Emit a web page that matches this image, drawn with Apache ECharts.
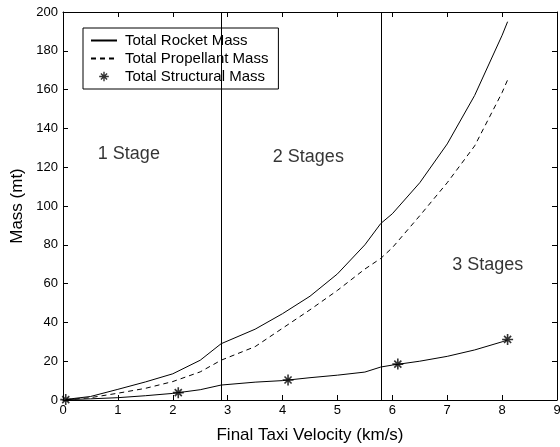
<!DOCTYPE html>
<html>
<head>
<meta charset="utf-8">
<script src="https://cdn.jsdelivr.net/npm/echarts@6/dist/echarts.min.js"></script>
<style>
  html, body { margin: 0; padding: 0; background: #fff; }
  #chart { width: 560px; height: 447px; }
</style>
</head>
<body>
<div id="chart"></div>
<script>
// final taxi velocity (km/s), shared by the three curves
var velocity = [0.05, 0.5, 1, 1.5, 2, 2.5, 2.88, 3.5, 4, 4.5, 5, 5.5, 5.79, 6, 6.5, 7, 7.5, 8, 8.1];
var rocketMass = [0.3, 1.8, 5.5, 9.3, 13.5, 20.5, 29, 36.5, 44.5, 53.5, 65, 80, 91, 96, 112, 132, 157, 188, 195];
var propellantMass = [0.1, 1.2, 3.5, 6, 9.5, 14.5, 20.5, 27.5, 37, 46.5, 56.5, 67.5, 73, 78.5, 95, 112, 131, 158.5, 165];
var structuralMass = [0.2, 0.6, 1.2, 2.2, 3.4, 5.3, 7.7, 9.2, 10, 11.5, 12.8, 14.4, 17, 18, 20, 22.5, 25.8, 30, 31];
// star markers on the structural curve
var starVelocity = [0.05, 2.1, 4.1, 6.1, 8.1];
var starMass = [0.2, 3.8, 10.3, 18.5, 31.2];
// stage boundaries
var stageLimits = [2.88, 5.79];
var stageNames = ['1 Stage', '2 Stages', '3 Stages'];
var stagePos = [[1.2, 127], [4.47, 125], [7.74, 69.5]];

var xTicks = [0, 9, 1];
var yTicks = [0, 200, 20];

var font = 'Liberation Sans, Arial, sans-serif';
// matlab style asterisk, padded to a 16x16 box
var star = 'path://M-8,-8 M8,8 M-5.5,-0.8 L5.5,-0.8 L5.5,0.8 L-5.5,0.8 Z M-0.8,-5.5 L0.8,-5.5 L0.8,5.5 L-0.8,5.5 Z ' +
  'M-2.96,-4.1 L4.1,2.96 L2.96,4.1 L-4.1,-2.96 Z M4.1,-2.96 L-2.96,4.1 L-4.1,2.96 L2.96,-4.1 Z';

function pairs(xs, ys) {
  return xs.map(function (x, i) { return [x, ys[i]]; });
}

var myChart = echarts.init(document.getElementById('chart'));

var axisCommon = {
  axisLine: { show: true, onZero: false, lineStyle: { color: '#000', width: 1 } },
  axisTick: { show: true, inside: true, length: 5, lineStyle: { color: '#000' } },
  splitLine: { show: false }
};

var option = {
  animation: false,
  backgroundColor: '#fff',
  grid: { left: 63, right: 3, top: 12, bottom: 47, outerBoundsMode: 'none', containLabel: false },
  legend: {
    left: 83,
    top: 28,
    orient: 'vertical',
    data: [
      { name: 'Total Rocket Mass', itemStyle: { opacity: 0 } },
      { name: 'Total Propellant Mass', itemStyle: { opacity: 0 } },
      { name: 'Total Structural Mass' }
    ],
    itemWidth: 26,
    itemHeight: 14,
    itemGap: 3,
    padding: [5, 10, 5, 7],
    borderColor: '#000',
    borderWidth: 1,
    backgroundColor: '#fff',
    textStyle: { fontFamily: font, fontSize: 15, color: '#000', padding: [0, 0, 0, 3] },
    selectedMode: false
  },
  xAxis: [
    Object.assign({
      type: 'value', min: xTicks[0], max: xTicks[1], interval: xTicks[2],
      name: 'Final Taxi Velocity (km/s)', nameLocation: 'middle', nameGap: 27,
      nameTextStyle: { fontFamily: font, fontSize: 17, color: '#000' },
      axisLabel: { fontFamily: font, fontSize: 13, color: '#000', margin: 4 }
    }, axisCommon),
    Object.assign({
      type: 'value', position: 'top', min: xTicks[0], max: xTicks[1], interval: xTicks[2],
      axisLabel: { show: false }
    }, axisCommon)
  ],
  yAxis: [
    Object.assign({
      type: 'value', min: yTicks[0], max: yTicks[1], interval: yTicks[2],
      name: 'Mass (mt)', nameLocation: 'middle', nameGap: 32,
      nameTextStyle: { fontFamily: font, fontSize: 17, color: '#000' },
      axisLabel: { fontFamily: font, fontSize: 13, color: '#000', margin: 5 }
    }, axisCommon),
    Object.assign({
      type: 'value', position: 'right', min: yTicks[0], max: yTicks[1], interval: yTicks[2],
      axisLabel: { show: false }
    }, axisCommon)
  ],
  series: [
    {
      name: 'Total Rocket Mass',
      type: 'line',
      data: pairs(velocity, rocketMass),
      symbol: 'none',
      lineStyle: { color: '#000', width: 1 },
      itemStyle: { color: '#000' },
      silent: true,
      markLine: {
        silent: true,
        symbol: 'none',
        label: { show: false },
        lineStyle: { color: '#000', width: 1, type: 'solid' },
        data: stageLimits.map(function (v) { return { xAxis: v }; })
      }
    },
    {
      name: 'Total Propellant Mass',
      type: 'line',
      data: pairs(velocity, propellantMass),
      symbol: 'none',
      lineStyle: { color: '#000', width: 1, type: [5, 4] },
      itemStyle: { color: '#000' },
      silent: true
    },
    {
      name: 'structural line',
      type: 'line',
      data: pairs(velocity, structuralMass),
      symbol: 'none',
      lineStyle: { color: '#000', width: 1 },
      silent: true
    },
    {
      name: 'Total Structural Mass',
      type: 'scatter',
      data: pairs(starVelocity, starMass),
      symbol: star,
      symbolSize: 16,
      itemStyle: { color: '#000' },
      silent: true
    },
    {
      name: 'stages',
      type: 'scatter',
      symbolSize: 0,
      silent: true,
      data: stageNames.map(function (n, i) { return { name: n, value: stagePos[i] }; }),
      label: {
        show: true, position: 'inside', formatter: '{b}',
        fontFamily: font, fontSize: 18, color: '#000'
      }
    }
  ]
};

myChart.setOption(option);
</script>
</body>
</html>
